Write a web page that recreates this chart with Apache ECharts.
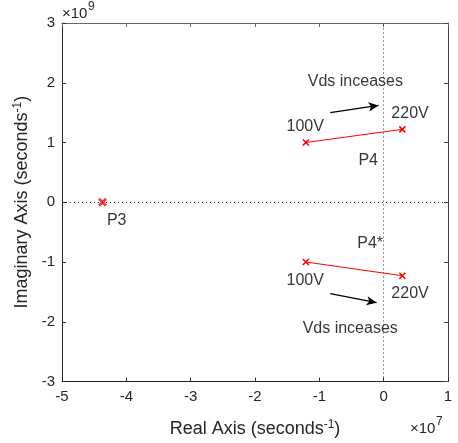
<!DOCTYPE html>
<html><head><meta charset="utf-8">
<script src="https://cdn.jsdelivr.net/npm/echarts@6/dist/echarts.min.js"></script>
<style>html,body{margin:0;padding:0;background:#fff}#c{width:458px;height:443px}</style>
</head><body><div id="c"></div>
<script>
// Real axis in units of 1e7, imaginary axis in units of 1e9
const xTicks = [-5, -4, -3, -2, -1, 0, 1];
const yTicks = [-3, -2, -1, 0, 1, 2, 3];
const p4Upper = [[-1.21, 1.00], [0.29, 1.22]];
const p4Lower = [[-1.21, -1.00], [0.29, -1.23]];
const p3Point = [[-4.37, 0.0]];
const labelTexts = ['Vds inceases', '100V', '220V', 'P4', 'P4*', '100V', '220V', 'Vds inceases', 'P3'];
const labelPos = [[-0.44, 2.02], [-1.22, 1.27], [0.41, 1.48], [-0.24, 0.69], [-0.21, -0.70], [-1.22, -1.31], [0.41, -1.53], [-0.52, -2.12], [-4.15, -0.31]];
const arrows = [[[-0.83, 1.50], [-0.08, 1.62]], [[-0.83, -1.53], [-0.11, -1.68]]];

const FONT = '"Liberation Sans", Arial, sans-serif';
const AX = '#262626';
const xMark = 'path://M0,0L10,10M10,0L0,10';

const chart = echarts.init(document.getElementById('c'), null, {renderer: 'canvas'});
function axCommon(color) {
  return {
    axisLine: {show: true, onZero: false, lineStyle: {color: color, width: 1}},
    axisTick: {show: true, inside: true, length: 4, lineStyle: {color: color}},
    splitLine: {show: false}
  };
}
const nameRich = {
  t: {fontSize: 18, color: AX, fontFamily: FONT},
  s: {fontSize: 12, color: AX, fontFamily: FONT, padding: [0, 0, 9, 0]}
};
function expTitle(x, y, base, exp) {
  return [
    {text: base, left: x, top: y, padding: 0, textStyle: {fontSize: 15, fontWeight: 'normal', fontFamily: FONT, color: AX}},
    {text: exp, left: x + 26, top: y - 5, padding: 0, textStyle: {fontSize: 12, fontWeight: 'normal', fontFamily: FONT, color: AX}}
  ];
}
const option = {
  animation: false,
  backgroundColor: '#fff',
  textStyle: {fontFamily: FONT},
  title: expTitle(62, 6, '×10', '9').concat(expTitle(410, 421, '×10', '7')),
  grid: {left: 62, right: 10, top: 23, bottom: 60, containLabel: false},
  xAxis: [
    Object.assign({type: 'value', min: xTicks[0], max: xTicks[xTicks.length - 1], interval: 1, position: 'bottom',
      name: '{t|Real Axis (seconds}{s|-1}{t|)}', nameLocation: 'middle', nameGap: 37,
      nameTextStyle: {rich: nameRich},
      axisLabel: {fontSize: 15, color: AX, fontFamily: FONT, margin: 8}}, axCommon(AX)),
    Object.assign({type: 'value', min: xTicks[0], max: xTicks[xTicks.length - 1], interval: 1, position: 'top',
      axisLabel: {show: false}}, axCommon('#666'))
  ],
  yAxis: [
    Object.assign({type: 'value', min: yTicks[0], max: yTicks[yTicks.length - 1], interval: 1, position: 'left',
      name: '{t|Imaginary Axis (seconds}{s|-1}{t|)}', nameLocation: 'middle', nameGap: 22, nameRotate: 90,
      nameTextStyle: {rich: nameRich},
      axisLabel: {fontSize: 15, color: AX, fontFamily: FONT, margin: 7}}, axCommon(AX)),
    Object.assign({type: 'value', min: yTicks[0], max: yTicks[yTicks.length - 1], interval: 1, position: 'right',
      axisLabel: {show: false}}, axCommon('#444'))
  ],
  series: [
    {
      type: 'line', data: [], silent: true,
      markLine: {silent: true, symbol: ['none', 'none'], label: {show: false},
        lineStyle: {color: '#333', type: [1, 3], width: 1},
        data: [{xAxis: 0}, {yAxis: 0}]}
    },
    {
      type: 'line', data: p4Upper, symbol: xMark, symbolSize: 6, showAllSymbol: true,
      lineStyle: {color: '#ff0000', width: 1},
      itemStyle: {color: 'none', borderColor: '#ff0000', borderWidth: 1.5}
    },
    {
      type: 'line', data: p4Lower, symbol: xMark, symbolSize: 6, showAllSymbol: true,
      lineStyle: {color: '#ff0000', width: 1},
      itemStyle: {color: 'none', borderColor: '#ff0000', borderWidth: 1.5}
    },
    {
      type: 'scatter', data: p3Point, symbol: xMark, symbolSize: 7,
      itemStyle: {color: 'none', borderColor: '#ff0000', borderWidth: 2.5}
    },
    {
      type: 'scatter', symbolSize: 0, silent: true,
      data: labelPos.map((p, i) => ({value: p, name: labelTexts[i]})),
      label: {show: true, position: 'inside', formatter: p => p.name, fontSize: 16, color: '#000', fontFamily: FONT}
    },
    {
      type: 'line', data: [], silent: true,
      markLine: {silent: true, symbol: ['none', 'arrow'], symbolSize: [7, 10], label: {show: false},
        lineStyle: {color: '#000', type: 'solid', width: 1.2},
        data: arrows.map(a => [{coord: a[0]}, {coord: a[1]}])}
    }
  ]
};
chart.setOption(option);
</script></body></html>
